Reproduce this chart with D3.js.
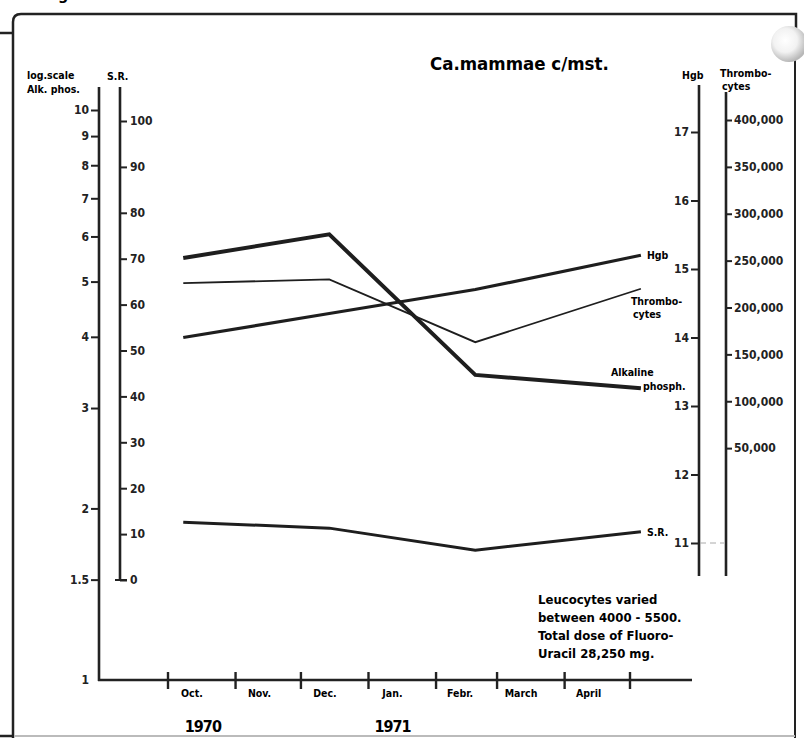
<!DOCTYPE html>
<html lang="en">
<head>
<meta charset="utf-8"/>
<title>Ca.mammae c/mst.</title>
<script src="https://cdnjs.cloudflare.com/ajax/libs/d3/7.8.5/d3.min.js"></script>
<style>
  body { margin: 0; background: #fff; }
  svg { display: block; font-family: "DejaVu Sans Condensed", "DejaVu Sans", sans-serif; font-weight: bold; }
</style>
</head>
<body>
<div id="chart"></div>
<script>
// one reading per visit
var visitDates = ["1970-10-08", "1970-12-14", "1971-02-19", "1971-05-06"];
var alkPhos = [5.5, 6.05, 3.43, 3.25];           // log scale
var hgb = [14.0, 14.35, 14.7, 15.2];
var thrombo = [226000, 230000, 163000, 220000];
var sedRate = [12.6, 11.3, 6.5, 10.5];

// axes
var logTicks = [1, 1.5, 2, 3, 4, 5, 6, 7, 8, 9, 10];
var srTicks = [0, 10, 20, 30, 40, 50, 60, 70, 80, 90, 100];
var hgbTicks = [11, 12, 13, 14, 15, 16, 17];
var thrTicks = [50000, 100000, 150000, 200000, 250000, 300000, 350000, 400000];
var monthStarts = ["1970-10-01", "1970-11-01", "1970-12-01", "1971-01-01", "1971-02-01", "1971-03-01", "1971-04-01", "1971-05-01"];
var monthLabels = ["Oct.", "Nov.", "Dec.", "Jan.", "Febr.", "March", "April"];
var yearLabels = ["1970", "1971"];

var W = 804, H = 738;
var parse = d3.timeParse("%Y-%m-%d");

var svg = d3.select("#chart").append("svg").attr("width", W).attr("height", H);

var x = d3.scaleTime().domain([parse("1970-10-01"), parse("1971-05-01")]).range([168, 630]);
var yLog = d3.scaleLog().domain([1, 10]).range([680, 110]);
var ySR = d3.scaleLinear().domain([0, 100]).range([580, 121]);
var yHgb = d3.scaleLinear().domain([11, 17]).range([543, 132]);
var yThr = d3.scaleLinear().domain([0, 400000]).range([495, 120]);

// paper frame
var frame = svg.append("g").attr("fill", "none").attr("stroke", "#222");
frame.append("path").attr("stroke-width", 2.5)
  .attr("d", "M13,738 L13,22 Q13,14 21,14 L796,14 L796,28");
frame.append("line").attr("x1", 795).attr("x2", 795).attr("y1", 28).attr("y2", 738).attr("stroke-width", 2);
frame.append("line").attr("x1", 0).attr("x2", 12).attr("y1", 33).attr("y2", 33).attr("stroke-width", 2.5);
frame.append("line").attr("x1", 0).attr("x2", 795).attr("y1", 736).attr("y2", 736).attr("stroke", "#bbb").attr("stroke-width", 2);
frame.append("line").attr("x1", 0).attr("x2", 14).attr("y1", 736).attr("y2", 736).attr("stroke-width", 2.5);
svg.append("text").attr("x", 58).attr("y", 0).attr("font-size", 16).text("g");

// punch hole
var grad = svg.append("defs").append("radialGradient").attr("id", "hole")
  .attr("cx", "40%").attr("cy", "40%").attr("r", "60%");
grad.append("stop").attr("offset", "0%").attr("stop-color", "#fff");
grad.append("stop").attr("offset", "55%").attr("stop-color", "#f2f2f2");
grad.append("stop").attr("offset", "100%").attr("stop-color", "#b8b8b8");
svg.append("circle").attr("cx", 789).attr("cy", 44).attr("r", 18).attr("fill", "url(#hole)");

function styleAxis(g, size) {
  g.attr("font-family", null).attr("font-size", size);
  g.selectAll(".tick line").attr("stroke", "#222").attr("stroke-width", 2);
  g.selectAll("text").attr("fill", "#222");
  g.select(".domain").remove();
}

function vline(xp, y1, y2) {
  svg.append("line").attr("x1", xp).attr("x2", xp).attr("y1", y1).attr("y2", y2)
    .attr("stroke", "#222").attr("stroke-width", 2.6);
}

// alkaline phosphatase (log)
vline(99, 87, 681);
svg.append("g").attr("transform", "translate(99,0)")
  .call(d3.axisLeft(yLog).tickValues(logTicks).tickFormat(d3.format("")).tickSize(8).tickPadding(2))
  .call(styleAxis, 12)
  .selectAll(".tick").filter(function(d) { return d === 1; }).select("line").remove();

// S.R.
vline(120, 87, 580);
svg.append("g").attr("transform", "translate(120,0)")
  .call(d3.axisRight(ySR).tickValues(srTicks).tickSize(7).tickPadding(3))
  .call(styleAxis, 12);
svg.append("line").attr("x1", 115).attr("x2", 127).attr("y1", ySR(0)).attr("y2", ySR(0))
  .attr("stroke", "#222").attr("stroke-width", 2);

// Hgb
vline(699, 85, 576);
svg.append("g").attr("transform", "translate(699,0)")
  .call(d3.axisLeft(yHgb).tickValues(hgbTicks).tickFormat(d3.format("")).tickSize(8).tickPadding(2))
  .call(styleAxis, 12);
svg.append("line").attr("x1", 700).attr("x2", 724).attr("y1", yHgb(11)).attr("y2", yHgb(11))
  .attr("stroke", "#aaa").attr("stroke-width", 1).attr("stroke-dasharray", "6,4");

// Thrombocytes
vline(726, 92, 576);
svg.append("g").attr("transform", "translate(726,0)")
  .call(d3.axisRight(yThr).tickValues(thrTicks).tickFormat(d3.format(",")).tickSize(6).tickPadding(2))
  .call(styleAxis, 12);

// time axis
svg.append("line").attr("x1", 98).attr("x2", 692).attr("y1", 680).attr("y2", 680)
  .attr("stroke", "#222").attr("stroke-width", 2.6);
svg.append("g").selectAll("line").data(monthStarts).join("line")
  .attr("x1", function(d) { return x(parse(d)); })
  .attr("x2", function(d) { return x(parse(d)); })
  .attr("y1", 672).attr("y2", 689)
  .attr("stroke", "#222").attr("stroke-width", 2.4);
svg.append("g").attr("font-size", 10.5).attr("text-anchor", "middle")
  .selectAll("text").data(monthLabels).join("text")
  .attr("x", function(d, i) { return x(d3.timeDay.offset(parse(monthStarts[i]), 11)); })
  .attr("y", 697)
  .text(function(d) { return d; });
svg.append("g").attr("font-size", 16).attr("text-anchor", "middle").attr("letter-spacing", -1)
  .selectAll("text").data(yearLabels).join("text")
  .attr("x", function(d, i) { return x(parse(i === 0 ? "1970-10-17" : "1971-01-12")); })
  .attr("y", 732)
  .text(function(d) { return d; });

// axis headers
var hdr = svg.append("g").attr("font-size", 10.5);
hdr.append("text").attr("x", 27).attr("y", 79).text("log.scale");
hdr.append("text").attr("x", 27).attr("y", 93).text("Alk. phos.");
hdr.append("text").attr("x", 107).attr("y", 80).text("S.R.");
hdr.append("text").attr("x", 682).attr("y", 79).text("Hgb");
hdr.append("text").attr("x", 720).attr("y", 77).text("Thrombo-");
hdr.append("text").attr("x", 722).attr("y", 90).text("cytes");

// title
svg.append("text").attr("x", 430).attr("y", 70).attr("font-size", 18.5).text("Ca.mammae c/mst.");

// series
var dates = visitDates.map(parse);
function drawSeries(values, scale, width) {
  var line = d3.line()
    .x(function(d, i) { return x(dates[i]); })
    .y(function(d) { return scale(d); });
  svg.append("path").datum(values)
    .attr("d", line)
    .attr("fill", "none")
    .attr("stroke", "#1e1e1e")
    .attr("stroke-width", width)
    .attr("stroke-linejoin", "miter");
}
drawSeries(alkPhos, yLog, 4);
drawSeries(hgb, yHgb, 3.2);
drawSeries(thrombo, yThr, 1.8);
drawSeries(sedRate, ySR, 3);

// series labels
var lab = svg.append("g").attr("font-size", 10.5);
var lastX = x(dates[dates.length - 1]);
lab.append("text").attr("x", lastX + 6).attr("y", yHgb(hgb[3]) + 4).text("Hgb");
lab.append("text").attr("x", lastX - 10).attr("y", yThr(thrombo[3]) + 16).text("Thrombo-");
lab.append("text").attr("x", lastX - 8).attr("y", yThr(thrombo[3]) + 29).text("cytes");
lab.append("text").attr("x", lastX - 30).attr("y", yLog(alkPhos[3]) - 12).text("Alkaline");
lab.append("text").attr("x", lastX + 2).attr("y", yLog(alkPhos[3]) + 2).text("phosph.");
lab.append("text").attr("x", lastX + 6).attr("y", ySR(sedRate[3]) + 4).text("S.R.");

// note
var note = ["Leucocytes varied", "between 4000 - 5500.", "Total dose of Fluoro-", "Uracil 28,250 mg."];
svg.append("g").attr("font-size", 13)
  .selectAll("text").data(note).join("text")
  .attr("x", 538)
  .attr("y", function(d, i) { return 604 + i * 18; })
  .text(function(d) { return d; });
</script>
</body>
</html>
